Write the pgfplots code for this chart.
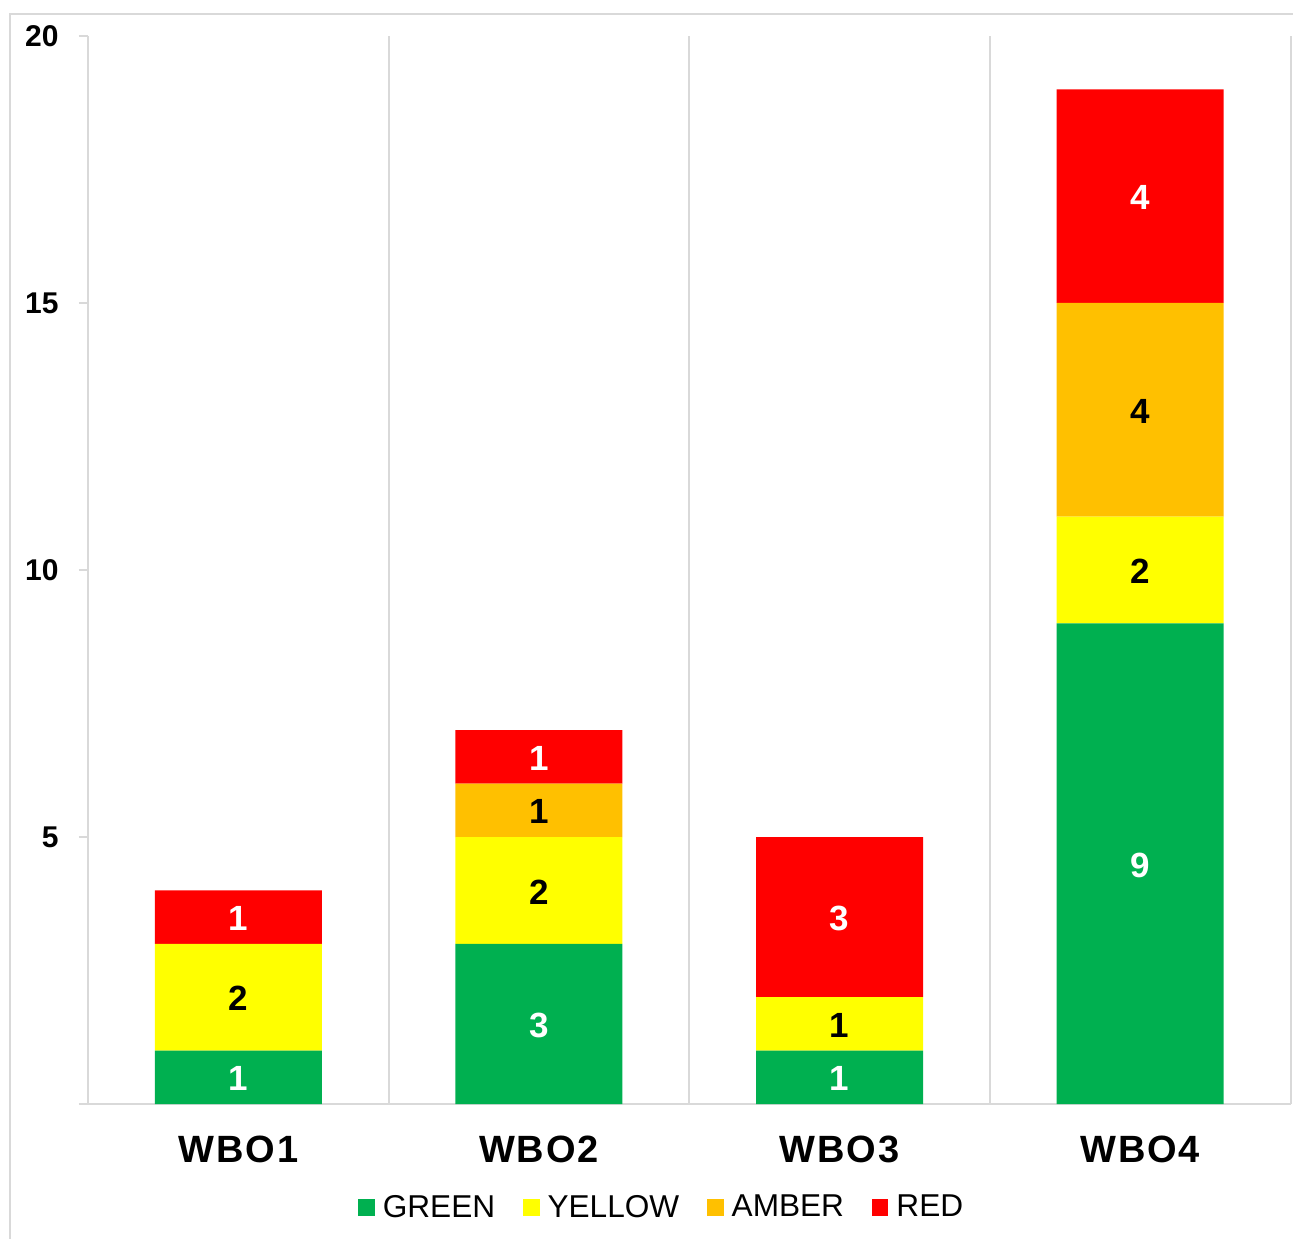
\documentclass[border=0pt]{standalone}
\usepackage{pgfplots}
\pgfplotsset{compat=1.18}
\usepackage{fontspec}
\setmainfont{Liberation Sans}
\definecolor{cgreen}{HTML}{00B050}
\definecolor{cyellow}{HTML}{FFFF00}
\definecolor{camber}{HTML}{FFC000}
\definecolor{cred}{HTML}{FF0000}
\definecolor{cgrid}{HTML}{D9D9D9}
\begin{document}
\begin{tikzpicture}
\useasboundingbox (-44pt,-67pt) rectangle (602.5pt,552pt);
\draw[cgrid, line width=1pt] (-39pt,-80pt) -- (-39pt,545pt) -- (620pt,545pt);
\begin{axis}[
  width=601.25pt, height=534pt, scale only axis,
  ybar stacked, bar width=83.5pt,
  xmin=-0.5, xmax=3.5, ymin=0, ymax=20,
  xtick={0,1,2,3}, xticklabels={WBO1,WBO2,WBO3,WBO4},
  minor xtick={0.5,1.5,2.5,3.5}, xminorgrids,
  minor grid style={cgrid, line width=1pt},
  ytick={0,5,10,15,20}, yticklabels={,5,10,15,20},
  axis lines=left, axis line style={-, cgrid, line width=1pt},
  tick align=outside, major tick length=4.5pt, minor tick length=0pt,
  xtick style={draw=none}, ytick style={cgrid, line width=1pt},
  yticklabel style={font=\fontsize{15}{18}\selectfont\bfseries, inner sep=0pt, xshift=-10pt},
  xticklabel style={font=\fontsize{19}{22}\selectfont\bfseries\addfontfeature{LetterSpace=5}, inner sep=0pt, yshift=-11.5pt},
  legend columns=4,
  legend style={at={(0.478,-0.097)}, anchor=center, draw=none, inner sep=0pt,
    font=\fontsize{15.8}{18}\selectfont,
    /tikz/every odd column/.append style={column sep=2pt},
    /tikz/every even column/.append style={column sep=12pt}},
]
\addplot[fill=cgreen, draw=none, legend image code/.code={\fill[cgreen] (0pt,-4.1pt) rectangle (8.2pt,4.1pt);}] coordinates {(0,1) (1,3) (2,1) (3,9)};
\addplot[fill=cyellow, draw=none, legend image code/.code={\fill[cyellow] (0pt,-4.1pt) rectangle (8.2pt,4.1pt);}] coordinates {(0,2) (1,2) (2,1) (3,2)};
\addplot[fill=camber, draw=none, legend image code/.code={\fill[camber] (0pt,-4.1pt) rectangle (8.2pt,4.1pt);}] coordinates {(0,0) (1,1) (2,0) (3,4)};
\addplot[fill=cred, draw=none, legend image code/.code={\fill[cred] (0pt,-4.1pt) rectangle (8.2pt,4.1pt);}] coordinates {(0,1) (1,1) (2,3) (3,4)};
\legend{GREEN,YELLOW,AMBER,RED}
\end{axis}
\begin{axis}[
  width=601.25pt, height=534pt, scale only axis,
  xmin=-0.5, xmax=3.5, ymin=0, ymax=20, hide axis,
  nodes near coords, point meta=explicit symbolic,
  every node near coord/.append style={anchor=center, yshift=-0.7pt, font=\fontsize{17.5}{20}\selectfont\bfseries},
]
\addplot[draw=none, mark=none, every node near coord/.append style={text=white}] coordinates {(0,0.5)[1] (1,1.5)[3] (2,0.5)[1] (3,4.5)[9] (0,3.5)[1] (1,6.5)[1] (2,3.5)[3] (3,17)[4]};
\addplot[draw=none, mark=none, every node near coord/.append style={text=black}] coordinates {(0,2)[2] (1,4)[2] (2,1.5)[1] (3,10)[2] (1,5.5)[1] (3,13)[4]};
\end{axis}
\end{tikzpicture}
\end{document}
